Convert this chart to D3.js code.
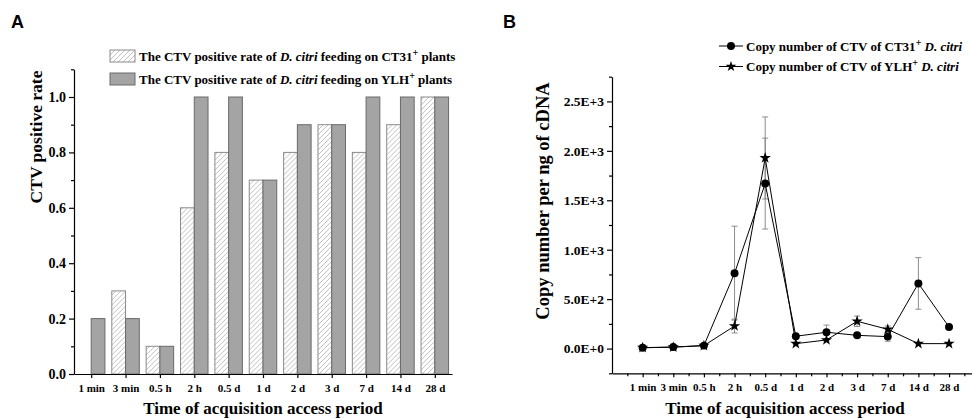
<!DOCTYPE html>
<html lang="en">
<head>
    <meta charset="utf-8">
    <title>CTV acquisition</title>
    <script src="https://cdn.jsdelivr.net/npm/d3@7"></script>
    <style>
        body { margin: 0; background: #fff; }
        text { font-family: "Liberation Serif", "Times New Roman", serif; font-weight: bold; }
        .axis path, .axis line { stroke: #000; stroke-width: 1.2; }
    </style>
</head>
<body>
    <script type="text/javascript">
        var w = 972;
        var h = 419;

        var categories = ["1 min", "3 min", "0.5 h", "2 h", "0.5 d", "1 d", "2 d", "3 d", "7 d", "14 d", "28 d"];
        // panel A: positive rate
        var rateCT31 = [0, 0.3, 0.1, 0.6, 0.8, 0.7, 0.8, 0.9, 0.8, 0.9, 1.0];
        var rateYLH = [0.2, 0.2, 0.1, 1.0, 1.0, 0.7, 0.9, 0.9, 1.0, 1.0, 1.0];
        var yTicksA = [0, 0.2, 0.4, 0.6, 0.8, 1.0];
        // panel B: copy number per ng cDNA (mean, error)
        var copyCT31 = [8, 15, 30, 763, 1669, 125, 165, 134, 121, 659, 218];
        var errCT31 = [4, 4, 6, 475, 460, 15, 73, 20, 47, 261, 15];
        var copyYLH = [10, 15, 30, 228, 1928, 50, 87, 276, 195, 50, 50];
        var errYLH = [3, 3, 5, 70, 415, 8, 15, 53, 33, 5, 5];
        var yTicksB = [0, 500, 1000, 1500, 2000, 2500];

        var svg = d3.select("body").append("svg").attr("width", w).attr("height", h);

        var defs = svg.append("defs");
        var pat = defs.append("pattern").attr("id", "hatch")
            .attr("patternUnits", "userSpaceOnUse").attr("width", 5).attr("height", 5);
        pat.append("rect").attr("width", 5).attr("height", 5).attr("fill", "#fff");
        pat.append("path").attr("d", "M0,5 L5,0 M-1,1 L1,-1 M4,6 L6,4")
            .attr("stroke", "#b0b0b0").attr("stroke-width", 0.8);

        // ---------- Panel A ----------
        svg.append("text").attr("x", 11).attr("y", 28).text("A")
            .style("font-family", "Liberation Sans, Arial, sans-serif").style("font-size", "18px");

        var xA = d3.scaleBand().domain(categories).range([74, 452]).paddingInner(0.2).paddingOuter(0.1);
        var xSub = d3.scaleBand().domain(["ct", "ylh"]).range([0, xA.bandwidth()]);
        var yA = d3.scaleLinear().domain([0, 1.1]).range([374, 69.3]);

        var groups = svg.append("g").selectAll("g").data(categories).enter().append("g")
            .attr("transform", function (d) { return "translate(" + xA(d) + ",0)"; });
        groups.append("rect")
            .attr("x", xSub("ct")).attr("width", xSub.bandwidth())
            .attr("y", function (d, i) { return yA(rateCT31[i]); })
            .attr("height", function (d, i) { return yA(0) - yA(rateCT31[i]); })
            .attr("fill", "url(#hatch)").attr("stroke", "#8a8a8a").attr("stroke-width", 1)
            .style("display", function (d, i) { return rateCT31[i] > 0 ? null : "none"; });
        groups.append("rect")
            .attr("x", xSub("ylh")).attr("width", xSub.bandwidth())
            .attr("y", function (d, i) { return yA(rateYLH[i]); })
            .attr("height", function (d, i) { return yA(0) - yA(rateYLH[i]); })
            .attr("fill", "#a4a4a4").attr("stroke", "#6a6a6a").attr("stroke-width", 1);

        var axA = svg.append("g").attr("class", "axis").attr("transform", "translate(74,0)")
            .call(d3.axisLeft(yA).tickValues(yTicksA).tickFormat(d3.format(".1f")).tickSize(5).tickSizeOuter(0));
        svg.append("g").attr("class", "axis").attr("transform", "translate(74,0)")
            .call(d3.axisLeft(yA).tickValues([0.1, 0.3, 0.5, 0.7, 0.9, 1.1]).tickFormat("").tickSize(3).tickSizeOuter(0))
            .select(".domain").remove();
        axA.selectAll(".tick text").style("font-size", "14px").attr("x", -8);

        var axAx = svg.append("g").attr("class", "axis").attr("transform", "translate(0,374)")
            .call(d3.axisBottom(d3.scaleLinear().domain([74, 452]).range([74, 452]))
                .tickValues(categories.map(function (c) { return xA(c) + xA.bandwidth() / 2; }))
                .tickFormat(function (d, i) { return categories[i]; }).tickSize(4).tickSizeOuter(0));
        axAx.selectAll(".tick text").style("font-size", "11px").attr("y", 10);

        svg.append("text").attr("transform", "translate(42,137) rotate(-90)")
            .attr("text-anchor", "middle").style("font-size", "17.5px").text("CTV positive rate");
        svg.append("text").attr("x", 263).attr("y", 414)
            .attr("text-anchor", "middle").style("font-size", "17px").text("Time of acquisition access period");

        // legend A
        var legA = [["url(#hatch)", "#8a8a8a", "CT31"], ["#a4a4a4", "#6a6a6a", "YLH"]];
        legA.forEach(function (l, i) {
            var y0 = 50 + i * 23;
            svg.append("rect").attr("x", 110).attr("y", y0).attr("width", 25).attr("height", 12)
                .attr("fill", l[0]).attr("stroke", l[1]);
            var t = svg.append("text").attr("x", 139).attr("y", y0 + 11).style("font-size", "13px");
            t.append("tspan").text("The CTV positive rate of ");
            t.append("tspan").style("font-style", "italic").text("D. citri");
            t.append("tspan").text(" feeding on " + l[2]);
            t.append("tspan").attr("dy", -5).style("font-size", "10px").text("+");
            t.append("tspan").attr("dy", 5).text(" plants");
        });

        // ---------- Panel B ----------
        svg.append("text").attr("x", 503).attr("y", 28).text("B")
            .style("font-family", "Liberation Sans, Arial, sans-serif").style("font-size", "18px");

        var xB = d3.scaleLinear().domain([0, 11.75]).range([612, 972]);
        var yB = d3.scaleLinear().domain([-250, 2750]).range([373.3, 76.7]);

        function fmtE(v) {
            if (v === 0) return "0.0E+0";
            var e = Math.floor(Math.log10(v));
            return (v / Math.pow(10, e)).toFixed(1) + "E+" + e;
        }

        var axB = svg.append("g").attr("class", "axis").attr("transform", "translate(612,0)")
            .call(d3.axisLeft(yB).tickValues(yTicksB).tickFormat(fmtE).tickSize(5).tickSizeOuter(0));
        svg.append("g").attr("class", "axis").attr("transform", "translate(612,0)")
            .call(d3.axisLeft(yB).tickValues([-250, 250, 750, 1250, 1750, 2250, 2750]).tickFormat("").tickSize(3).tickSizeOuter(0))
            .select(".domain").remove();
        axB.selectAll(".tick text").style("font-size", "13.5px").attr("x", -8);

        var axBx = svg.append("g").attr("class", "axis").attr("transform", "translate(0,373.3)")
            .call(d3.axisBottom(xB).tickValues(d3.range(1, 12)).tickFormat(function (d) { return categories[d - 1]; })
                .tickSize(4).tickSizeOuter(0));
        svg.append("g").attr("class", "axis").attr("transform", "translate(0,373.3)")
            .call(d3.axisBottom(xB).tickValues(d3.range(0.5, 12, 1)).tickFormat("").tickSize(3).tickSizeOuter(0))
            .select(".domain").remove();
        axBx.selectAll(".tick text").style("font-size", "11px").attr("y", 10);

        svg.append("text").attr("transform", "translate(549,201) rotate(-90)")
            .attr("text-anchor", "middle").style("font-size", "18.5px").text("Copy number per ng of cDNA");
        svg.append("text").attr("x", 785).attr("y", 414)
            .attr("text-anchor", "middle").style("font-size", "17px").text("Time of acquisition access period");

        var series = [
            { vals: copyCT31, err: errCT31, sym: d3.symbolCircle, size: 50 },
            { vals: copyYLH, err: errYLH, sym: d3.symbolStar, size: 40 }
        ];
        var line = d3.line().x(function (d, i) { return xB(i + 1); }).y(function (d) { return yB(d); });

        series.forEach(function (s) {
            var eg = svg.append("g").attr("stroke", "#808080").attr("stroke-width", 0.9);
            s.vals.forEach(function (v, i) {
                var x = xB(i + 1), e = s.err[i];
                eg.append("line").attr("x1", x).attr("x2", x).attr("y1", yB(v - e)).attr("y2", yB(v + e));
                eg.append("line").attr("x1", x - 3).attr("x2", x + 3).attr("y1", yB(v - e)).attr("y2", yB(v - e));
                eg.append("line").attr("x1", x - 3).attr("x2", x + 3).attr("y1", yB(v + e)).attr("y2", yB(v + e));
            });
        });
        series.forEach(function (s) {
            svg.append("path").attr("d", line(s.vals)).attr("fill", "none").attr("stroke", "#000").attr("stroke-width", 1);
            svg.append("g").selectAll("path").data(s.vals).enter().append("path")
                .attr("d", d3.symbol().type(s.sym).size(s.size))
                .attr("transform", function (d, i) { return "translate(" + xB(i + 1) + "," + yB(d) + ")"; })
                .attr("fill", "#000");
        });

        // legend B
        var legB = [[d3.symbolCircle, 50, "CT31"], [d3.symbolStar, 35, "YLH"]];
        legB.forEach(function (l, i) {
            var y0 = 46 + i * 20.5;
            svg.append("line").attr("x1", 719).attr("x2", 743).attr("y1", y0).attr("y2", y0).attr("stroke", "#000");
            svg.append("path").attr("d", d3.symbol().type(l[0]).size(l[1])())
                .attr("transform", "translate(731," + y0 + ")");
            var t = svg.append("text").attr("x", 746).attr("y", y0 + 4.5).style("font-size", "13px");
            t.append("tspan").text("Copy number of CTV of " + l[2]);
            t.append("tspan").attr("dy", -5).style("font-size", "10px").text("+");
            t.append("tspan").attr("dy", 5).style("font-style", "italic").text(" D. citri");
        });
    </script>
</body>
</html>
